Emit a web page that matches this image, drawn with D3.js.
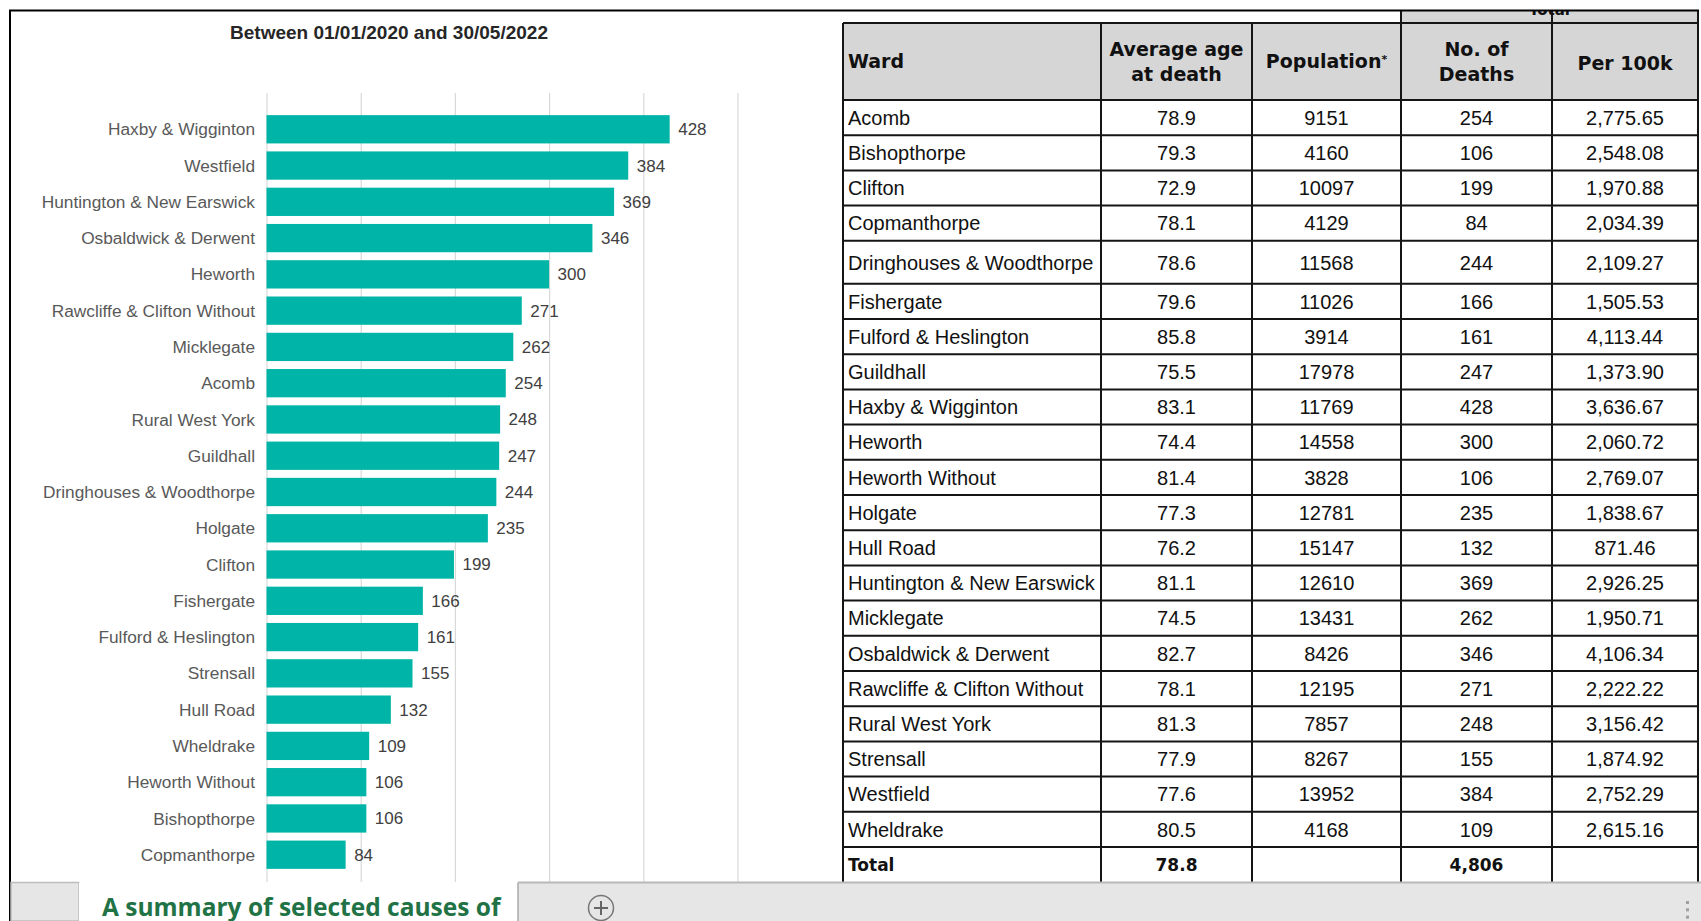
<!DOCTYPE html>
<html><head><meta charset="utf-8">
<script src="https://cdn.jsdelivr.net/npm/d3@7"></script>
<style>body{margin:0;background:#fff;overflow:hidden} svg{display:block}</style>
</head><body><svg id="c" width="1701" height="921"></svg>
<script>
// ---------- data ----------
const chartTitle = "Between 01/01/2020 and 30/05/2022";
const chartWards = ["Haxby & Wigginton","Westfield","Huntington & New Earswick","Osbaldwick & Derwent","Heworth",
  "Rawcliffe & Clifton Without","Micklegate","Acomb","Rural West York","Guildhall","Dringhouses & Woodthorpe",
  "Holgate","Clifton","Fishergate","Fulford & Heslington","Strensall","Hull Road","Wheldrake","Heworth Without",
  "Bishopthorpe","Copmanthorpe"];
const chartDeaths = [428,384,369,346,300,271,262,254,248,247,244,235,199,166,161,155,132,109,106,106,84];
const xTicks = [0,100,200,300,400,500];

const groupHeader = "Total";
const tableHeaders = [["Ward"],["Average age","at death"],["Population"],["No. of","Deaths"],["Per 100k"]];
const tableWards = ["Acomb","Bishopthorpe","Clifton","Copmanthorpe","Dringhouses & Woodthorpe","Fishergate",
  "Fulford & Heslington","Guildhall","Haxby & Wigginton","Heworth","Heworth Without","Holgate","Hull Road",
  "Huntington & New Earswick","Micklegate","Osbaldwick & Derwent","Rawcliffe & Clifton Without","Rural West York",
  "Strensall","Westfield","Wheldrake"];
const avgAge = [78.9,79.3,72.9,78.1,78.6,79.6,85.8,75.5,83.1,74.4,81.4,77.3,76.2,81.1,74.5,82.7,78.1,81.3,77.9,77.6,80.5];
const population = [9151,4160,10097,4129,11568,11026,3914,17978,11769,14558,3828,12781,15147,12610,13431,8426,12195,7857,8267,13952,4168];
const deaths = [254,106,199,84,244,166,161,247,428,300,106,235,132,369,262,346,271,248,155,384,109];
const per100k = [2775.65,2548.08,1970.88,2034.39,2109.27,1505.53,4113.44,1373.90,3636.67,2060.72,2769.07,1838.67,871.46,2926.25,1950.71,4106.34,2222.22,3156.42,1874.92,2752.29,2615.16];
const totalRow = ["Total","78.8","","4,806",""];
const sheetTab = "A summary of selected causes of";

// ---------- drawing ----------
const svg = d3.select("#c");
const sans = "'Liberation Sans', Arial, sans-serif";
const dv = "'DejaVu Sans', Verdana, sans-serif";

// chart
const x = d3.scaleLinear().domain([0, 500]).range([266.5, 737.5]);
const y = d3.scaleBand().domain(chartWards).range([97, 887]).paddingInner(0.22).paddingOuter(0.5);

svg.append("text").attr("x", 389).attr("y", 39).attr("text-anchor", "middle")
  .attr("font-family", sans).attr("font-weight", "bold").attr("font-size", 19).attr("fill", "#262626")
  .text(chartTitle);

const grid = svg.append("g").attr("transform", "translate(0,93)")
  .call(d3.axisBottom(x).tickValues(xTicks).tickSize(789).tickFormat(""));
grid.select(".domain").remove();
grid.selectAll("line").attr("stroke", "#d9d9d9").attr("stroke-width", 1.2);

svg.append("g").selectAll("rect").data(chartWards).join("rect")
  .attr("x", x(0)).attr("y", d => y(d))
  .attr("width", (d, i) => x(chartDeaths[i]) - x(0)).attr("height", y.bandwidth())
  .attr("fill", "#00b5a8");

svg.append("g").selectAll("text").data(chartWards).join("text")
  .attr("x", 255).attr("y", d => y(d) + y.bandwidth() / 2).attr("dy", "0.35em")
  .attr("text-anchor", "end").attr("font-family", sans).attr("font-size", 17.3).attr("fill", "#595959")
  .text(d => d);

svg.append("g").selectAll("text").data(chartWards).join("text")
  .attr("x", (d, i) => x(chartDeaths[i]) + 8.5).attr("y", d => y(d) + y.bandwidth() / 2).attr("dy", "0.35em")
  .attr("font-family", sans).attr("font-size", 17).attr("fill", "#404040")
  .text((d, i) => chartDeaths[i]);

// table
const colX = [843, 1101, 1252, 1401, 1552, 1698];
const headTop = 23, headBot = 100;
const rowH = tableWards.map(w => w === "Dringhouses & Woodthorpe" ? 43 : 35.2);
rowH.push(35.2); // total row
const rowTops = [headBot, ...d3.cumsum(rowH).map(v => headBot + v)];
const tableBottom = rowTops[rowTops.length - 1];

// group header strip (cut off at the top in the reference)
svg.append("rect").attr("x", colX[3]).attr("y", 10).attr("width", colX[5] - colX[3]).attr("height", headTop - 10).attr("fill", "#d6d6d6");
svg.append("clipPath").attr("id", "gh").append("rect").attr("x", colX[3]).attr("y", 11).attr("width", colX[5] - colX[3]).attr("height", 12);
svg.append("text").attr("clip-path", "url(#gh)").attr("x", (colX[3] + colX[5]) / 2).attr("y", 15)
  .attr("text-anchor", "middle").attr("font-family", dv).attr("font-weight", "bold").attr("font-size", 15).attr("fill", "#111")
  .text(groupHeader);

svg.append("rect").attr("x", colX[0]).attr("y", headTop).attr("width", colX[5] - colX[0]).attr("height", headBot - headTop).attr("fill", "#d6d6d6");

const hdr = svg.append("g").attr("font-family", dv).attr("font-weight", "bold").attr("font-size", 19).attr("fill", "#111");
tableHeaders.forEach((lines, c) => {
  const cx = c === 0 ? colX[0] + 5 : (colX[c] + colX[c + 1]) / 2;
  const anchor = c === 0 ? "start" : "middle";
  const mid = (headTop + headBot) / 2 + (c === 4 ? 2 : 0);
  lines.forEach((ln, k) => {
    const yy = lines.length === 1 ? mid : mid + (k === 0 ? -12.5 : 12.5);
    const t = hdr.append("text").attr("x", cx).attr("y", yy).attr("dy", "0.36em").attr("text-anchor", anchor).text(ln);
    if (ln === "Population") t.append("tspan").attr("font-size", 11).attr("dy", "-0.5em").text("*");
  });
});

const body = svg.append("g").attr("font-family", sans).attr("font-size", 20).attr("fill", "#111");
const fmtAge = d3.format(".1f"), fmtRate = d3.format(",.2f");
tableWards.forEach((w, i) => {
  const cy = rowTops[i] + rowH[i] / 2;
  const vals = [w, fmtAge(avgAge[i]), population[i], deaths[i], fmtRate(per100k[i])];
  vals.forEach((v, c) => {
    body.append("text").attr("x", c === 0 ? colX[0] + 5 : (colX[c] + colX[c + 1]) / 2)
      .attr("y", cy).attr("dy", "0.36em").attr("text-anchor", c === 0 ? "start" : "middle").text(v);
  });
});
const tot = svg.append("g").attr("font-family", dv).attr("font-weight", "bold").attr("font-size", 17).attr("fill", "#111");
{
  const i = tableWards.length;
  const cy = rowTops[i] + rowH[i] / 2;
  totalRow.forEach((v, c) => {
    tot.append("text").attr("x", c === 0 ? colX[0] + 5 : (colX[c] + colX[c + 1]) / 2)
      .attr("y", cy).attr("dy", "0.36em").attr("text-anchor", c === 0 ? "start" : "middle").text(v);
  });
}

const lines = svg.append("g").attr("stroke", "#151515").attr("stroke-width", 2);
rowTops.slice(0, -1).forEach(t => lines.append("line").attr("x1", colX[0]).attr("x2", colX[5]).attr("y1", t).attr("y2", t));
lines.append("line").attr("x1", colX[0]).attr("x2", colX[5]).attr("y1", headTop).attr("y2", headTop);
colX.forEach((cx, c) => lines.append("line").attr("x1", cx).attr("x2", cx).attr("y1", c >= 3 ? 10 : headTop).attr("y2", tableBottom));

// sheet frame
const frame = svg.append("g").attr("stroke", "#000").attr("stroke-width", 2);
frame.append("line").attr("x1", 9).attr("x2", 1699).attr("y1", 10.5).attr("y2", 10.5);
frame.append("line").attr("x1", 10).attr("x2", 10).attr("y1", 10).attr("y2", 921);

// sheet tab bar
const tb = 882.5;
svg.append("rect").attr("x", 11).attr("y", tb).attr("width", 68).attr("height", 921 - tb).attr("fill", "#e6e6e6").attr("stroke", "#bdbdbd").attr("stroke-width", 1.5);
svg.append("rect").attr("x", 79).attr("y", tb).attr("width", 439).attr("height", 921 - tb).attr("fill", "#fff");
svg.append("rect").attr("x", 518).attr("y", tb).attr("width", 1701 - 518).attr("height", 921 - tb).attr("fill", "#e6e6e6");
svg.append("line").attr("x1", 518).attr("x2", 1701).attr("y1", tb).attr("y2", tb).attr("stroke", "#b8b8b8").attr("stroke-width", 2);
svg.append("line").attr("x1", 518).attr("x2", 518).attr("y1", tb).attr("y2", 921).attr("stroke", "#a8a8a8").attr("stroke-width", 1.5);
svg.append("text").attr("x", 102).attr("y", 916).attr("font-family", "'Open Sans', 'Noto Sans', sans-serif")
  .attr("font-weight", "bold").attr("font-size", 24.5).attr("fill", "#217346").text(sheetTab);
svg.append("circle").attr("cx", 601).attr("cy", 908).attr("r", 12.5).attr("fill", "none").attr("stroke", "#777").attr("stroke-width", 1.5);
svg.append("path").attr("d", "M594,908H608M601,901V915").attr("stroke", "#666").attr("stroke-width", 2);
svg.append("g").selectAll("rect").data([0, 1, 2]).join("rect")
  .attr("x", 1686).attr("y", d => 901 + d * 7.3).attr("width", 3).attr("height", 3).attr("fill", "#a0a0a0");
</script>
</body></html>
